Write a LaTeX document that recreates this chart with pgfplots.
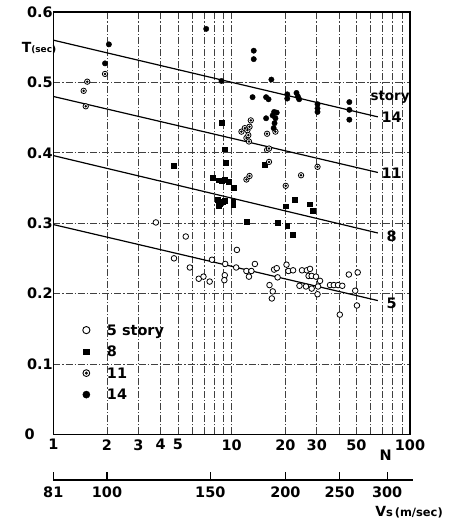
\documentclass[border=0pt]{standalone}
\usepackage{pgfplots}
\pgfplotsset{compat=1.18}
\usepackage{fontspec}
\setmainfont{DejaVu Sans}
\newcommand\lab{\fontsize{14.5}{15}\selectfont\bfseries}
\pgfdeclareplotmark{odot}{%
  \pgfpathcircle{\pgfpointorigin}{\pgfplotmarksize}\pgfusepathqfillstroke
  \pgfpathcircle{\pgfpointorigin}{0.3\pgfplotmarksize}\pgfusepathqstroke}

\pgfplotstableread{
N T
3.76 0.301
5.53 0.281
4.75 0.250
5.83 0.237
6.54 0.221
6.95 0.224
7.53 0.217
7.76 0.248
9.2 0.242
9.15 0.226
9.1 0.219
10.7 0.262
10.6 0.237
12.1 0.232
12.5 0.224
12.9 0.232
13.5 0.242
16.3 0.212
16.8 0.193
17.0 0.203
17.3 0.234
17.9 0.236
18.1 0.223
20.3 0.241
20.8 0.232
22.1 0.233
24.0 0.211
24.8 0.233
26.1 0.210
26.4 0.233
27.0 0.225
27.5 0.235
28.1 0.225
28.1 0.207
29.7 0.224
30.3 0.199
30.5 0.210
31.3 0.218
35.6 0.212
37.4 0.212
39.5 0.212
40.4 0.170
41.7 0.211
45.4 0.227
49.3 0.204
50.4 0.183
50.9 0.230
}\storyfive

\pgfplotstableread{
N T
4.75 0.382
7.86 0.364
8.32 0.333
8.4 0.361
8.47 0.325
8.58 0.328
8.77 0.443
8.77 0.360
8.97 0.330
9.17 0.405
9.17 0.362
9.17 0.332
9.29 0.386
9.58 0.359
10.2 0.330
10.2 0.326
10.3 0.350
12.1 0.302
15.3 0.383
18.1 0.301
20.1 0.324
20.5 0.296
22.1 0.284
22.5 0.333
27.3 0.327
28.4 0.318
}\storyeight

\pgfplotstableread{
N T
1.48 0.488
1.52 0.466
1.55 0.501
1.95 0.512
11.35 0.430
11.85 0.435
12.1 0.421
12.1 0.362
12.25 0.432
12.4 0.425
12.5 0.416
12.6 0.437
12.6 0.367
12.8 0.446
15.8 0.427
15.8 0.404
16.2 0.406
16.2 0.387
17.6 0.430
20.1 0.353
24.5 0.368
30.3 0.380
}\storyeleven

\pgfplotstableread{
N T
1.95 0.527
2.05 0.554
7.2 0.576
8.77 0.502
13.1 0.479
13.3 0.545
13.3 0.533
15.6 0.479
15.6 0.449
16.1 0.476
16.7 0.504
16.97 0.453
17.2 0.435
17.3 0.458
17.4 0.442
17.6 0.449
17.9 0.457
20.5 0.483
20.5 0.477
23.1 0.485
23.5 0.480
23.9 0.476
30.3 0.469
30.3 0.463
30.3 0.458
45.7 0.472
45.7 0.461
45.7 0.447
}\storyfourteen

\begin{document}
\begin{tikzpicture}[x=1bp,y=1bp]
\useasboundingbox (0,0) rectangle (452,522);
\begin{axis}[
  at={(53.3bp,87.7bp)}, anchor=south west,
  scale only axis, width=356.7bp, height=422.3bp,
  xmode=log, xmin=1, xmax=100, ymin=0, ymax=0.6,
  xtick={1,2,3,4,5,10,20,30,50,100},
  xticklabels={1,2,3,4,5,10,20,30,50,100},
  minor xtick={6,7,8,9,40,60,70,80,90},
  ytick={0,0.1,0.2,0.3,0.4,0.5,0.6},
  yticklabels={{\makebox[0pt][r]{0\hspace{18bp}}},0.1,0.2,0.3,0.4,0.5,0.6},
  xmajorgrids, xminorgrids, ymajorgrids,
  grid style={black!75, line width=0.6bp, dash pattern=on 7bp off 2bp on 1.2bp off 2bp},
  minor grid style={black!75, line width=0.6bp, dash pattern=on 7bp off 2bp on 1.2bp off 2bp},
  major tick length=0pt, minor tick length=0pt,
  axis line style={line width=1.1bp},
  tick label style={font=\lab},
  xticklabel style={yshift=-1.5bp},
  yticklabel style={xshift=3bp},
  /pgf/number format/assume math mode=true,
  clip=false,
  legend style={at={(axis description cs:0.082,0.262)}, anchor=north west,
    draw=none, fill=none, font=\lab, inner sep=0pt, row sep=9bp, column sep=16bp,
    nodes={inner sep=1bp, text height=10.5bp, text depth=0bp}},
  legend cell align=left,
  legend image code/.code={\draw[#1] plot coordinates {(0bp,0bp)};},
]
\addlegendimage{only marks, mark=*, mark size=3.6bp, mark options={fill=white, draw=black, line width=0.9bp}}
\addlegendimage{only marks, mark=square*, mark size=2.8bp, mark options={fill=black, draw=black}}
\addlegendimage{only marks, mark=odot, mark size=3.4bp, mark options={fill=white, draw=black, line width=0.9bp}}
\addlegendimage{only marks, mark=*, mark size=3.6bp, mark options={fill=black, draw=black}}
\legend{5 story,8,11,14}

\addplot[forget plot, black, line width=1.2bp] coordinates {(1,0.560) (66,0.451)};
\addplot[forget plot, black, line width=1.2bp] coordinates {(1,0.480) (66,0.372)};
\addplot[forget plot, black, line width=1.2bp] coordinates {(1,0.396) (66,0.286)};
\addplot[forget plot, black, line width=1.2bp] coordinates {(1,0.298) (66,0.190)};

\addplot[forget plot, only marks, mark=*, mark size=2.8bp, mark options={fill=white, draw=black, line width=0.8bp}] table[x=N,y=T] {\storyfive};
\addplot[forget plot, only marks, mark=square*, mark size=2.4bp, mark options={fill=black, draw=black}] table[x=N,y=T] {\storyeight};
\addplot[forget plot, only marks, mark=odot, mark size=2.7bp, mark options={fill=white, draw=black, line width=0.8bp}] table[x=N,y=T] {\storyeleven};
\addplot[forget plot, only marks, mark=*, mark size=2.7bp, mark options={fill=black, draw=black}] table[x=N,y=T] {\storyfourteen};

\node at (axis cs:77.3,0.479) {\fontsize{13.5}{14}\selectfont\bfseries story};
\node at (axis cs:79,0.451) {\lab 14};
\node at (axis cs:79,0.371) {\lab 11};
\node at (axis cs:79,0.281) {\lab 8};
\node at (axis cs:79,0.186) {\lab 5};
\end{axis}

\begin{axis}[
  at={(53.3bp,42bp)}, anchor=south west,
  scale only axis, width=356.7bp, height=10bp,
  xmode=log, xmin=1, xmax=100, ymin=0, ymax=1,
  axis y line=none, axis x line*=bottom,
  xtick={1,2,7.59,20,40.3,74.4},
  xticklabels={81,100,150,200,250,300},
  minor xtick={}, minor tick length=0pt,
  tick align=inside, major tick length=8bp,
  tick style={line width=1.1bp, black},
  x axis line style={line width=1.1bp, shorten >=-3bp},
  xticklabel style={font=\lab, yshift=-3bp},
]
\addplot[draw=none, forget plot] coordinates {(1,0) (100,0)};
\end{axis}

\node at (39,473.7) {\fontsize{14}{14}\selectfont\bfseries T\fontsize{9}{9}\selectfont(sec)};
\node at (385.7,67) {\lab N};
\node at (409,10.3) {\fontsize{14}{14}\selectfont\bfseries V\fontsize{11.5}{12}\selectfont s\,(m/sec)};
\end{tikzpicture}
\end{document}
